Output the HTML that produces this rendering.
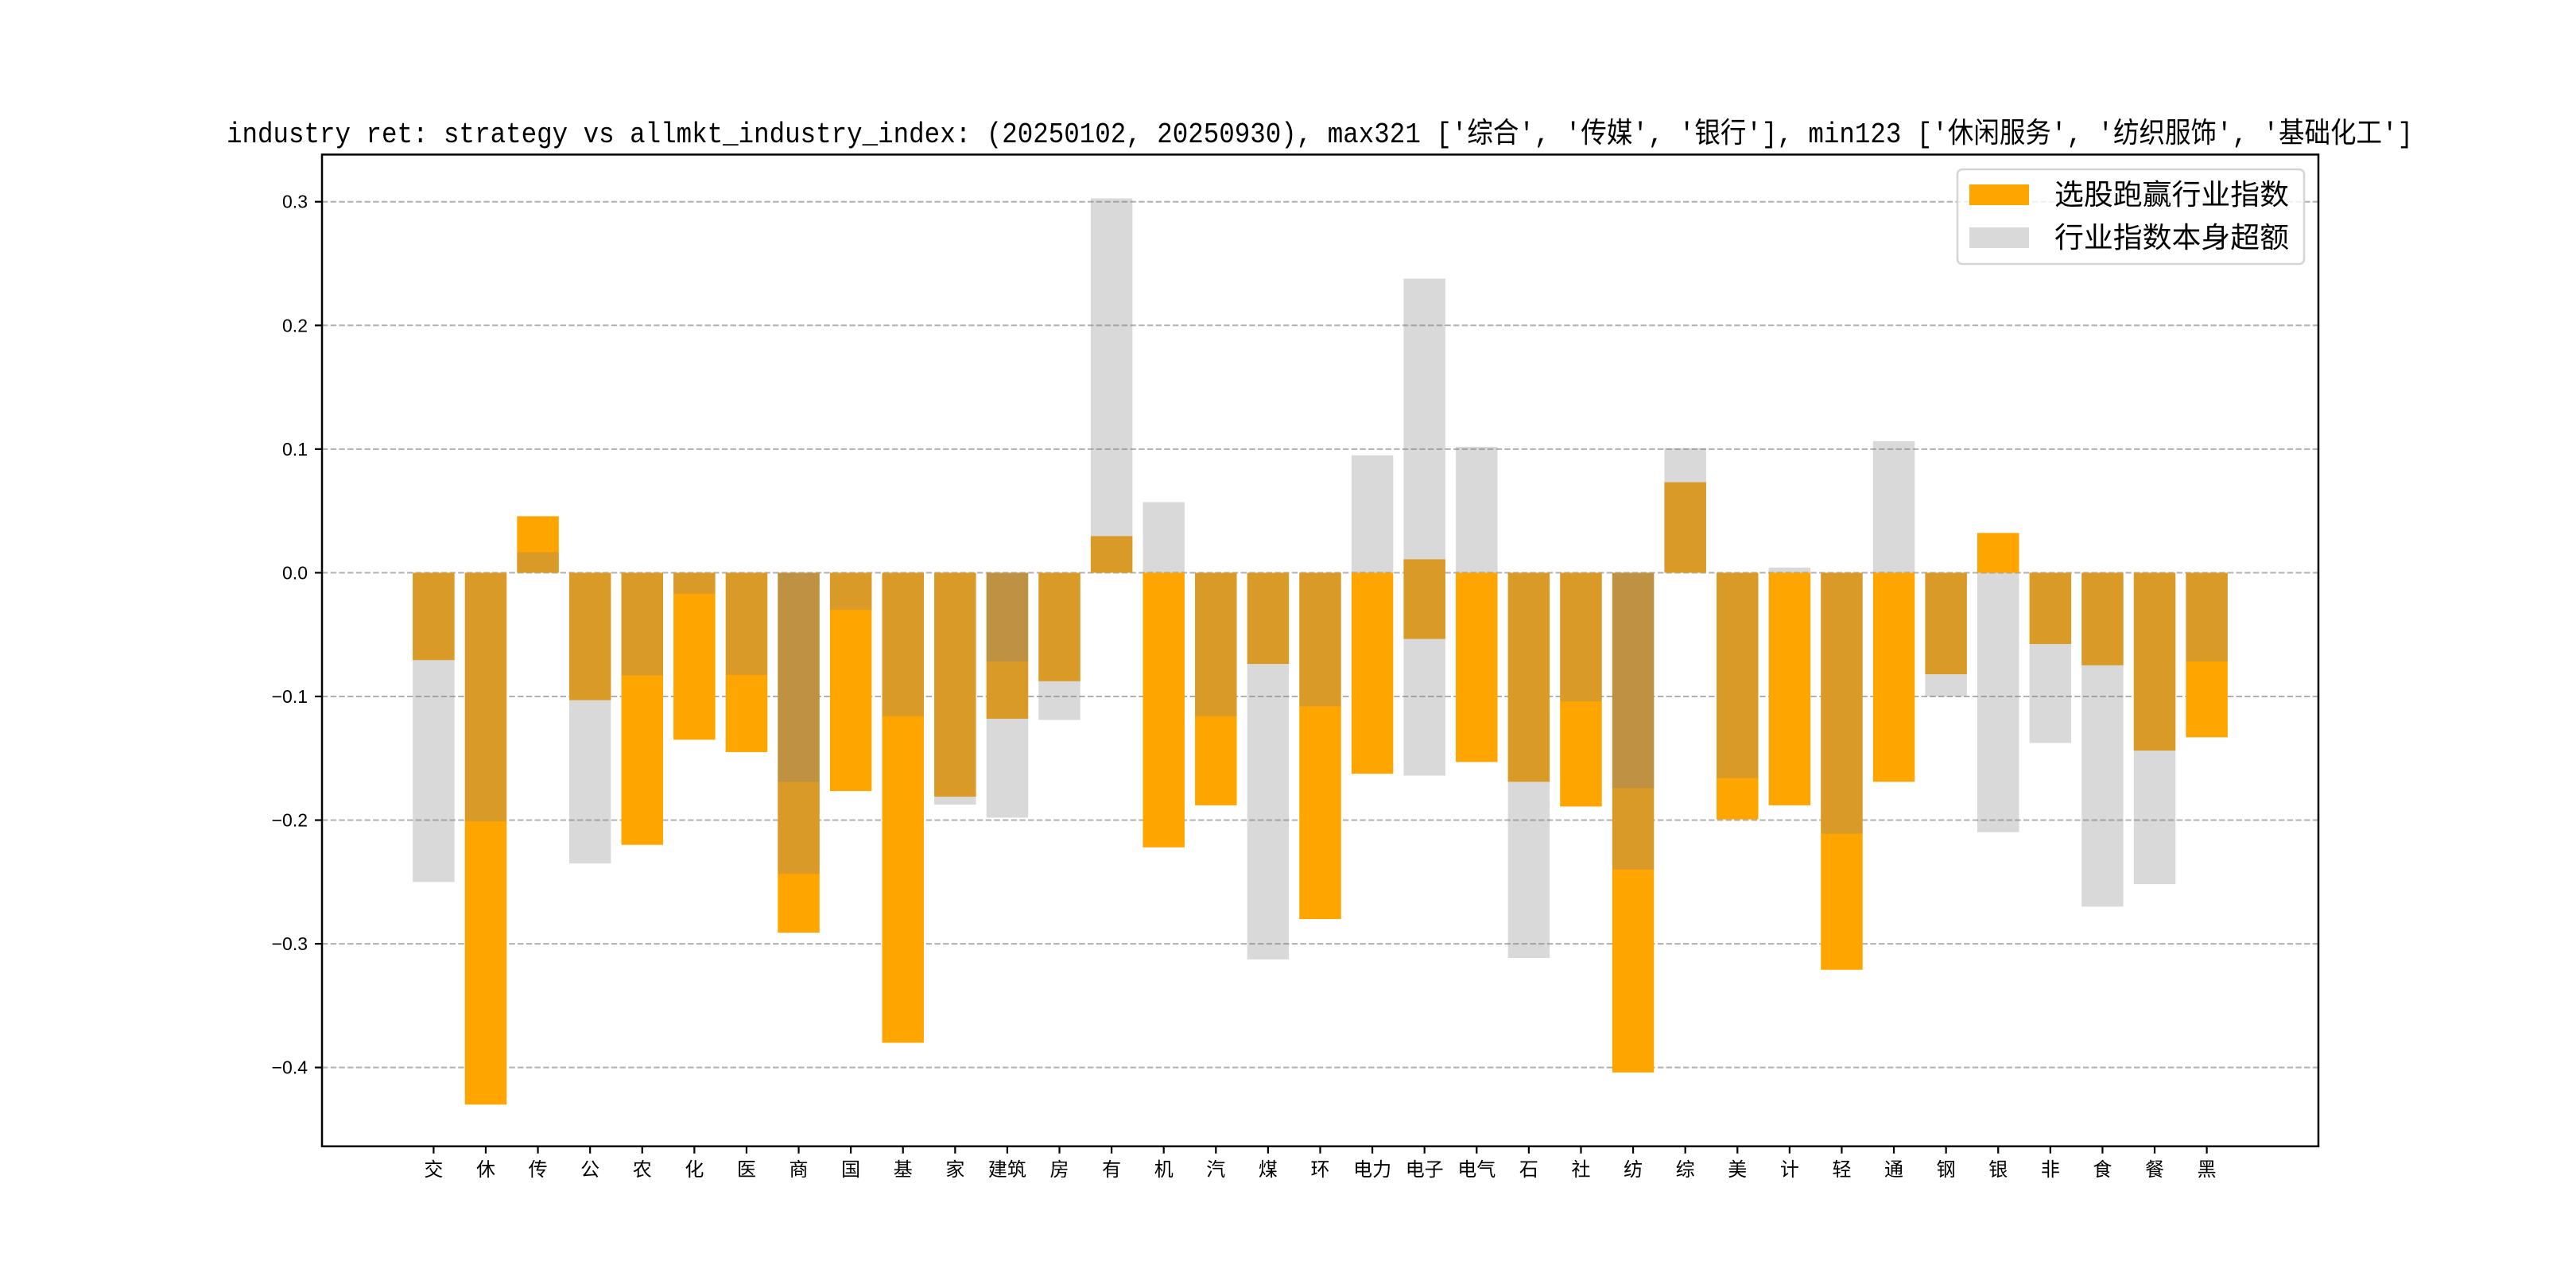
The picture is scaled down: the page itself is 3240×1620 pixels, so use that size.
<!DOCTYPE html>
<html><head><meta charset="utf-8">
<style>
html,body{margin:0;padding:0;background:#fff;}
svg{display:block;}
text{font-family:"Liberation Sans","Noto Sans CJK SC",sans-serif;}
</style></head>
<body>
<svg id="chart" width="3240" height="1620" viewBox="0 0 3240 1620" xmlns="http://www.w3.org/2000/svg">
<rect x="0" y="0" width="3240" height="1620" fill="#fff"/>
<text x="285" y="179" font-size="36" textLength="2750" lengthAdjust="spacingAndGlyphs" style="font-family:'Liberation Mono','Noto Sans CJK SC',monospace" fill="#000">industry ret: strategy vs allmkt_industry_index: (20250102, 20250930), max321 ['综合', '传媒', '银行'], min123 ['休闲服务', '纺织服饰', '基础化工']</text>
<g id="grid"></g>
<g id="bars"></g>
<g id="axes"></g>
<g>
<rect x="2462" y="213" width="436" height="119" rx="6" fill="#fff" fill-opacity="0.8" stroke="#d4d4d4" stroke-width="2.5"/>
<rect x="2477" y="232" width="75" height="26" fill="#ffa500"/>
<text x="2584" y="257" font-size="36" textLength="295" lengthAdjust="spacingAndGlyphs" fill="#000">选股跑赢行业指数</text>
<rect x="2477" y="286" width="75" height="26" fill="rgba(128,128,128,0.3)"/>
<text x="2584" y="311" font-size="36" textLength="295" lengthAdjust="spacingAndGlyphs" fill="#000">行业指数本身超额</text>
</g>
</svg>
<script>
const categories = ['交','休','传','公','农','化','医','商','国','基','家','建筑','房','有','机','汽','煤','环','电力','电子','电气','石','社','纺','综','美','计','轻','通','钢','银','非','食','餐','黑'];
const strategyValues = [-0.0706,-0.430,0.0457,-0.103,-0.220,-0.135,-0.145,-0.291,-0.1765,-0.380,-0.181,-0.118,-0.0877,0.0296,-0.222,-0.188,-0.0737,-0.280,-0.1625,0.0109,-0.153,-0.169,-0.189,-0.404,0.0732,-0.1994,-0.188,-0.321,-0.169,-0.082,0.0322,-0.0576,-0.0748,-0.1438,-0.133];
const strategyValues2 = [null,null,null,null,null,null,null,null,null,null,null,null,null,null,null,null,null,null,null,-0.0535,null,null,null,null,null,null,null,null,null,null,null,null,null,null,null];
const industryValues = [-0.250,-0.201,0.0166,-0.235,-0.083,-0.017,-0.0826,-0.2435,-0.030,-0.116,-0.1874,-0.198,-0.119,0.3027,0.0571,-0.116,-0.3126,-0.108,0.095,0.2378,0.1018,-0.3115,-0.104,-0.240,0.1007,-0.166,0.0042,-0.211,0.1064,-0.100,-0.2098,-0.1376,-0.270,-0.2518,-0.0717];
const industryValues2 = [null,null,null,null,null,null,null,-0.169,null,null,null,-0.0717,null,null,null,null,null,null,null,-0.164,null,null,null,-0.174,null,null,null,null,null,null,null,null,null,null,null];
const yTicks = [0.3,0.2,0.1,0.0,-0.1,-0.2,-0.3,-0.4];
const yTickLabels = ['0.3','0.2','0.1','0.0','−0.1','−0.2','−0.3','−0.4'];

const NS='http://www.w3.org/2000/svg';
const AX={l:405,r:2916,t:194.4,b:1441.8};
const xMin=-2.14,xMax=36.14;
function xScale(v){return AX.l+(v-xMin)/(xMax-xMin)*(AX.r-AX.l);}
function yScale(v){return 720.4-v*1555.6;}
const unit=(AX.r-AX.l)/(xMax-xMin);
function mk(tag,attrs,parent){const e=document.createElementNS(NS,tag);for(const k in attrs)e.setAttribute(k,attrs[k]);parent.appendChild(e);return e;}

const grid=document.getElementById('grid');
const axes=document.getElementById('axes');
const bars=document.getElementById('bars');

yTicks.forEach((t,i)=>{
  const y=yScale(t);
  const g=mk('line',{x1:AX.l,x2:AX.r,y1:y,y2:y,stroke:'#b0b0b0','stroke-width':2,'stroke-dasharray':'7.4,3.3'},grid);
  
  
  const tk=mk('line',{x1:AX.l-9,x2:AX.l,y1:y,y2:y,stroke:'#000','stroke-width':2.2},axes);
  
  
  const tx=mk('text',{x:AX.l-18,y:y+8,'font-size':23,'text-anchor':'end',fill:'#000'},axes);
  tx.textContent=yTickLabels[i];
  
  
});

function drawBar(i,v,fill,name){
  if(v===null||v===undefined)return;
  const y0=yScale(0),y1=yScale(v);
  const r=mk('rect',{x:xScale(i)-0.4*unit,y:Math.min(y0,y1),width:0.8*unit,height:Math.abs(y1-y0),fill:fill},bars);
  
  
}
categories.forEach((c,i)=>{drawBar(i,strategyValues[i],'#ffa500','strategy-bar');});
categories.forEach((c,i)=>{drawBar(i,strategyValues2[i],'#ffa500','strategy-bar-secondary');});
categories.forEach((c,i)=>{drawBar(i,industryValues[i],'rgba(128,128,128,0.3)','industry-bar');});
categories.forEach((c,i)=>{drawBar(i,industryValues2[i],'rgba(128,128,128,0.3)','industry-bar-secondary');});

categories.forEach((c,i)=>{
  const x=xScale(i);
  const tk=mk('line',{x1:x,x2:x,y1:AX.b,y2:AX.b+9,stroke:'#000','stroke-width':2.2},axes);
  
  
  const tx=mk('text',{x:x,y:AX.b+37,'font-size':24,'text-anchor':'middle',fill:'#000'},axes);
  tx.textContent=c;
  
  
});

const frame=mk('rect',{x:AX.l,y:AX.t,width:AX.r-AX.l,height:AX.b-AX.t,fill:'none',stroke:'#000','stroke-width':2.5},axes);


</script>
</body></html>
